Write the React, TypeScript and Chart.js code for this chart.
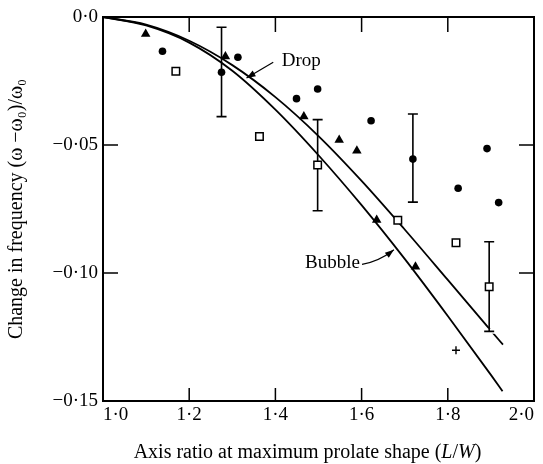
import React, { useEffect, useRef } from "react";
import { Chart, registerables } from "chart.js";

Chart.register(...registerables);

// ---- data ----
const xTicks = [1.0, 1.2, 1.4, 1.6, 1.8, 2.0];
const yTicks = [0, -0.05, -0.1, -0.15];

const dropX = [1.0, 1.1, 1.2, 1.3, 1.4, 1.5, 1.6, 1.7, 1.8, 1.9, 1.928];
const dropY = [0, -0.003, -0.0093, -0.0188, -0.0313, -0.0465, -0.064, -0.083, -0.1027, -0.1225, -0.128];

const bubbleX = [1.0, 1.1, 1.2, 1.3, 1.4, 1.5, 1.6, 1.7, 1.8, 1.9, 1.927];
const bubbleY = [0, -0.0033, -0.01, -0.021, -0.0362, -0.054, -0.0735, -0.0945, -0.1168, -0.1398, -0.1462];

const circleX = [1.138, 1.275, 1.313, 1.449, 1.498, 1.622, 1.719, 1.824, 1.891, 1.918];
const circleY = [-0.0134, -0.0216, -0.0157, -0.0319, -0.0281, -0.0405, -0.0555, -0.0669, -0.0514, -0.0725];

const triangleX = [1.099, 1.284, 1.466, 1.548, 1.589, 1.635, 1.725];
const triangleY = [-0.0066, -0.0154, -0.0389, -0.048, -0.0522, -0.0793, -0.0976];

const squareX = [1.169, 1.363, 1.498, 1.684, 1.819, 1.896];
const squareY = [-0.0212, -0.0467, -0.0578, -0.0794, -0.0882, -0.1054];

const plusX = [1.819];
const plusY = [-0.1302];

const errX = [1.275, 1.498, 1.719, 1.896];
const errHigh = [-0.004, -0.0401, -0.0379, -0.0878];
const errLow = [-0.0389, -0.0757, -0.0723, -0.1228];

const labelTexts = ["Drop", "Bubble"];
const labelX = [1.4146, 1.4687];
const labelY = [-0.017, -0.0962];

// arrows: start -> (control) -> tip
const dropArrow = { x0: 1.395, y0: -0.0177, x1: 1.333, y1: -0.0238 };
const bubbleArrow = { x0: 1.601, y0: -0.0966, cx: 1.64, cy: -0.0955, x1: 1.675, y1: -0.0909 };

const xTitleParts = [
  { t: "Axis ratio at maximum prolate shape (", it: false },
  { t: "L", it: true },
  { t: "/", it: false },
  { t: "W", it: true },
  { t: ")", it: false },
];
const yTitle = "Change in frequency (ω −ω₀)/ω₀";

const FONT = "'Liberation Serif', 'Times New Roman', serif";

const pts = (xs: number[], ys: number[]) => xs.map((x, i) => ({ x, y: ys[i] }));

function arrowHead(ctx: CanvasRenderingContext2D, tx: number, ty: number, fx: number, fy: number) {
  const ang = Math.atan2(ty - fy, tx - fx);
  const len = 9;
  const w = 3.2;
  ctx.beginPath();
  ctx.moveTo(tx, ty);
  ctx.lineTo(tx - len * Math.cos(ang) + w * Math.sin(ang), ty - len * Math.sin(ang) - w * Math.cos(ang));
  ctx.lineTo(tx - len * Math.cos(ang) - w * Math.sin(ang), ty - len * Math.sin(ang) + w * Math.cos(ang));
  ctx.closePath();
  ctx.fill();
}

const decorPlugin = {
  id: "decor",
  afterDatasetDraw(chart: any, args: any) {
    if (args.index !== 4) return;
    const { ctx, scales } = chart;
    const x = scales.x, y = scales.y;
    ctx.save();
    errX.forEach((v, i) => {
      const px = x.getPixelForValue(v);
      const pHi = y.getPixelForValue(errHigh[i]);
      const pLo = y.getPixelForValue(errLow[i]);
      ctx.strokeStyle = "#fff";
      ctx.lineWidth = 5;
      ctx.beginPath();
      ctx.moveTo(px - 6, pHi); ctx.lineTo(px + 6, pHi);
      ctx.moveTo(px - 6, pLo); ctx.lineTo(px + 6, pLo);
      ctx.stroke();
      ctx.strokeStyle = "#000";
      ctx.lineWidth = 1.6;
      ctx.beginPath();
      ctx.moveTo(px, pHi); ctx.lineTo(px, pLo);
      ctx.moveTo(px - 5, pHi); ctx.lineTo(px + 5, pHi);
      ctx.moveTo(px - 5, pLo); ctx.lineTo(px + 5, pLo);
      ctx.stroke();
    });
    ctx.restore();
  },
  afterDraw(chart: any) {
    const { ctx, chartArea: a, scales } = chart;
    const x = scales.x, y = scales.y;
    ctx.save();
    ctx.strokeStyle = "#000";
    ctx.fillStyle = "#000";
    ctx.lineWidth = 2;
    ctx.strokeRect(a.left, a.top, a.right - a.left, a.bottom - a.top);
    ctx.lineWidth = 1.5;
    ctx.beginPath();
    xTicks.forEach((t) => {
      const px = x.getPixelForValue(t);
      if (Math.abs(px - a.left) < 2 || Math.abs(px - a.right) < 2) return;
      ctx.moveTo(px, a.bottom); ctx.lineTo(px, a.bottom - 13);
      ctx.moveTo(px, a.top); ctx.lineTo(px, a.top + 15);
    });
    yTicks.forEach((t) => {
      const py = y.getPixelForValue(t);
      if (Math.abs(py - a.top) < 2 || Math.abs(py - a.bottom) < 2) return;
      ctx.moveTo(a.left, py); ctx.lineTo(a.left + 15, py);
      ctx.moveTo(a.right, py); ctx.lineTo(a.right - 15, py);
    });
    ctx.stroke();

    // curve labels
    ctx.font = `19px ${FONT}`;
    ctx.textAlign = "left";
    ctx.textBaseline = "middle";
    labelTexts.forEach((t, i) => {
      ctx.fillText(t, x.getPixelForValue(labelX[i]), y.getPixelForValue(labelY[i]));
    });

    // x-axis title with italic L and W
    const fontOf = (it: boolean) => `${it ? "italic " : ""}20px ${FONT}`;
    let total = 0;
    xTitleParts.forEach((p) => { ctx.font = fontOf(p.it); total += ctx.measureText(p.t).width; });
    let cx = (a.left + a.right) / 2 - 11 - total / 2;
    const ty = chart.height - 11;
    ctx.textAlign = "left";
    ctx.textBaseline = "middle";
    xTitleParts.forEach((p) => {
      ctx.font = fontOf(p.it);
      ctx.fillText(p.t, cx, ty);
      cx += ctx.measureText(p.t).width;
    });

    // drop arrow
    ctx.lineWidth = 1.2;
    const d0x = x.getPixelForValue(dropArrow.x0), d0y = y.getPixelForValue(dropArrow.y0);
    const d1x = x.getPixelForValue(dropArrow.x1), d1y = y.getPixelForValue(dropArrow.y1);
    ctx.beginPath();
    ctx.moveTo(d0x, d0y); ctx.lineTo(d1x, d1y);
    ctx.stroke();
    arrowHead(ctx, d1x, d1y, d0x, d0y);

    // bubble arrow
    const b0x = x.getPixelForValue(bubbleArrow.x0), b0y = y.getPixelForValue(bubbleArrow.y0);
    const bcx = x.getPixelForValue(bubbleArrow.cx), bcy = y.getPixelForValue(bubbleArrow.cy);
    const b1x = x.getPixelForValue(bubbleArrow.x1), b1y = y.getPixelForValue(bubbleArrow.y1);
    ctx.beginPath();
    ctx.moveTo(b0x, b0y); ctx.quadraticCurveTo(bcx, bcy, b1x, b1y);
    ctx.stroke();
    arrowHead(ctx, b1x, b1y, bcx, bcy);
    ctx.restore();
  },
};

const fmtX = (v: number) => v.toFixed(1).replace(".", "·");
const fmtY = (v: number) => (v === 0 ? "0·0" : "−" + Math.abs(v).toFixed(2).replace(".", "·"));

export default function App() {
  const ref = useRef<HTMLCanvasElement>(null);
  useEffect(() => {
    document.body.style.margin = "0";
    const canvas = ref.current!;
    const chart = new Chart(canvas, {
      type: "scatter",
      data: {
        datasets: [
          { label: "circles", data: pts(circleX, circleY), pointStyle: "circle", pointRadius: 3.8, backgroundColor: "#000", borderColor: "#000", borderWidth: 0 },
          { label: "triangles", data: pts(triangleX, triangleY), pointStyle: "triangle", pointRadius: 5.5, backgroundColor: "#000", borderColor: "#000", borderWidth: 0 },
          { label: "squares", data: pts(squareX, squareY), pointStyle: "rect", pointRadius: 5.3, backgroundColor: "#fff", borderColor: "#000", borderWidth: 1.5 },
          { label: "plus", data: pts(plusX, plusY), pointStyle: "cross", pointRadius: 4, backgroundColor: "#000", borderColor: "#000", borderWidth: 1.4 },
          { label: "Drop", type: "line", data: pts(dropX, dropY), showLine: true, borderColor: "#000", borderWidth: 1.8, pointRadius: 0, fill: false, cubicInterpolationMode: "monotone" } as any,
          { label: "Bubble", type: "line", data: pts(bubbleX, bubbleY), showLine: true, borderColor: "#000", borderWidth: 1.8, pointRadius: 0, fill: false, cubicInterpolationMode: "monotone" } as any,
        ],
      },
      options: {
        animation: false,
        responsive: false,
        layout: { padding: { top: 17, right: 9, left: 0, bottom: 0 } },
        plugins: { legend: { display: false }, tooltip: { enabled: false } },
        scales: {
          x: {
            type: "linear",
            min: 1,
            max: 2,
            afterBuildTicks: (s: any) => { s.ticks = xTicks.map((v) => ({ value: v })); },
            afterFit: (s: any) => { s.height = 63; s.paddingLeft = 0; s.paddingRight = 0; },
            grid: { display: false, drawTicks: false },
            border: { display: true, color: "#000", width: 2 },
            ticks: { color: "#000", font: { family: FONT, size: 19 }, padding: 3, align: "inner", callback: (v: any) => fmtX(Number(v)), maxRotation: 0 },
            title: { display: false },
          },
          y: {
            type: "linear",
            min: -0.15,
            max: 0,
            afterBuildTicks: (s: any) => { s.ticks = yTicks.map((v) => ({ value: v })); },
            afterFit: (s: any) => { s.width = 103; s.paddingTop = 0; s.paddingBottom = 0; },
            grid: { display: false, drawTicks: false },
            border: { display: true, color: "#000", width: 2 },
            ticks: { color: "#000", font: { family: FONT, size: 19 }, padding: 5, callback: (v: any) => fmtY(Number(v)) },
            title: { display: true, text: yTitle, color: "#000", font: { family: FONT, size: 20 }, padding: { top: 5, bottom: 0 } },
          },
        },
      },
      plugins: [decorPlugin],
    });
    return () => chart.destroy();
  }, []);
  return (
    <div style={{ width: 543, height: 464 }}>
      <canvas ref={ref} width={543} height={464} />
    </div>
  );
}
